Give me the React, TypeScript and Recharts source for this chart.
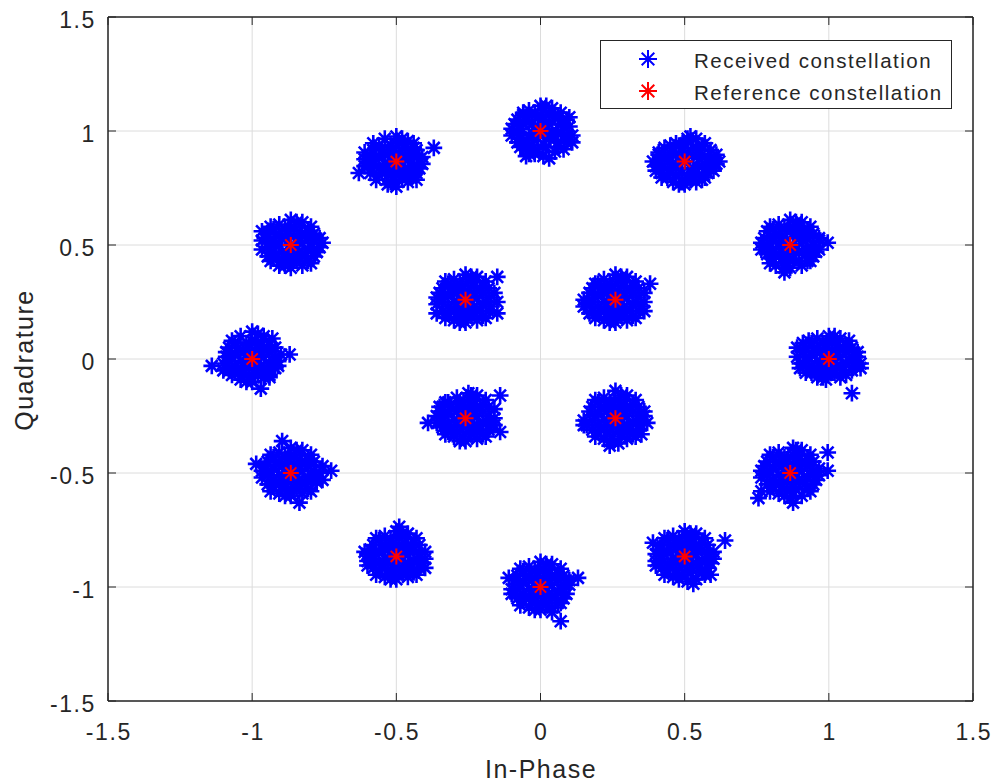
import { ScatterChart, Scatter, XAxis, YAxis, CartesianGrid, Legend, ReferenceArea } from 'recharts';

const FONT = "'Liberation Sans', Arial, Helvetica, sans-serif";
const INK = '#262626';

const axisTicks = [-1.5, -1, -0.5, 0, 0.5, 1, 1.5];

// reference constellation (16-APSK: 12 outer + 4 inner)
const refI = [1, 0.866, 0.5, 0, -0.5, -0.866, -1, -0.866, -0.5, 0, 0.5, 0.866, 0.26, -0.26, -0.26, 0.26];
const refQ = [0, 0.5, 0.866, 1, 0.866, 0.5, 0, -0.5, -0.866, -1, -0.866, -0.5, 0.26, 0.26, -0.26, -0.26];

// received samples, read per cluster as offsets from the reference point (x0.01)
const rx_1_0 = [[0,0],[4,1],[-4,-1],[1,4],[-1,-4],[2,-2],[-2,2],[5,5],[-5,5],[5,-5],[-5,-5],[8,1],[-8,-1],[1,8],[-1,-7],[6,-2],[-6,2],[3,6],[-3,-6],[6,3],[-6,-3],[2,-6],[-2,7],[8,5],[-8,5],[8,-5],[-8,-6],[4,9],[-4,9],[4,-8],[-4,-8],[11,-2],[-11,1],[0,10],[-1,-9],[7,8],[-7,8],[6,-7],[-10,-4],[-11,5],[8,-15],[10,3],
  [3,3],[-3,3],[3,-3],[-3,-3],[7,-1],[-7,1],[1,-6],[-1,6],[6,6],[-6,-6],[-6,7],[9,-3],[-9,3],[2,10],[-2,-8],[10,1],[-10,-2],[-9,7],[11,-4]];
const rx_087_05 = [[1,0],[4,2],[-4,-1],[1,5],[-1,-4],[2,-2],[-3,2],[5,5],[-5,5],[5,-4],[-5,-5],[8,0],[-8,-1],[1,8],[-1,-8],[6,-2],[-6,2],[3,7],[-3,-6],[6,3],[-6,-3],[3,-7],[-2,7],[8,5],[-8,6],[8,-5],[-8,-4],[4,10],[-4,9],[4,-9],[-5,-9],[10,-2],[-10,1],[0,11],[0,-10],[7,8],[-7,8],[7,-7],[-7,-8],[13,1],[10,3],
  [3,3],[-3,3],[3,-3],[-3,-3],[7,-1],[-7,1],[1,-6],[-1,6],[6,6],[-6,-6],[6,-7],[-6,7],[9,-3],[-9,3],[2,10],[-2,-10],[10,2],[-10,-2],[-2,-12]];
const rx_05_087 = [[0,0],[5,1],[-4,-1],[1,4],[-1,-5],[2,-3],[-2,2],[5,5],[-5,4],[5,-6],[-5,-5],[9,1],[-9,-1],[1,9],[-1,-9],[6,-2],[-7,2],[3,6],[-3,-6],[6,3],[-6,-3],[2,-8],[-2,7],[9,5],[-9,4],[8,-5],[-8,-5],[4,10],[-3,8],[4,-9],[-4,-9],[11,-1],[-11,0],[1,10],[0,-10],[7,8],[-7,6],[7,-7],[-8,-7],[11,3],[10,-4],[-10,-4],
  [3,3],[-3,3],[3,-3],[-3,-3],[7,-1],[-7,1],[1,-7],[-1,6],[6,7],[-6,-7],[6,-8],[-5,7],[9,-3],[-9,3],[2,11],[-2,-10],[10,2],[-10,-2],[12,0]];
const rx_0_1 = [[0,1],[4,0],[-4,-2],[1,5],[-1,-3],[3,-2],[-2,2],[5,6],[-5,5],[6,-5],[-4,-6],[8,2],[-8,-1],[1,9],[-1,-8],[6,-1],[-6,3],[3,7],[-3,-6],[7,3],[-7,-3],[2,-7],[-2,8],[9,5],[-8,5],[9,-5],[-8,-5],[4,10],[-4,9],[5,-9],[-4,-10],[11,-2],[-10,1],[0,11],[1,-11],[7,8],[-6,8],[8,-8],[-7,-7],[10,6],[-5,-11],[11,-5],
  [3,3],[-3,3],[3,-3],[-3,-3],[7,-1],[-7,1],[1,-6],[-1,6],[6,6],[-6,-6],[6,-7],[-6,7],[9,-2],[-9,3],[2,11],[-2,-10],[10,2],[-10,-2],[3,-12]];
const rx_m05_087 = [[0,0],[4,1],[-4,-1],[1,4],[-1,-4],[2,-2],[-2,2],[5,5],[-5,5],[5,-5],[-5,-5],[8,1],[-8,-1],[1,8],[-1,-8],[6,-2],[-6,2],[3,6],[-3,-6],[6,3],[-6,-3],[2,-7],[-2,7],[7,5],[-8,5],[7,-5],[-9,-5],[4,9],[-4,10],[4,-9],[-3,-10],[9,-1],[-11,1],[0,11],[0,-11],[6,8],[-8,8],[7,-8],[-7,-8],[13,6],[-13,-5],[-11,-2],
  [3,3],[-3,3],[3,-3],[-3,-3],[7,-2],[-7,1],[1,-6],[-1,6],[6,6],[-6,-6],[5,-7],[-6,7],[8,-3],[-9,3],[2,10],[-2,-9],[9,2],[-10,-2],[-11,4]];
const rx_m087_05 = [[0,0],[4,1],[-4,0],[1,4],[-1,-4],[2,-2],[-2,3],[5,5],[-5,5],[5,-5],[-5,-4],[8,2],[-8,-1],[1,8],[-1,-8],[6,-2],[-6,2],[3,6],[-3,-6],[6,3],[-6,-3],[2,-7],[-2,7],[8,5],[-8,5],[8,-5],[-8,-5],[4,10],[-4,9],[4,-9],[-4,-9],[10,-1],[-10,2],[0,11],[0,-10],[7,8],[-7,8],[7,-8],[-7,-7],[11,1],[9,-3],
  [3,3],[-3,3],[3,-3],[-3,-3],[7,-1],[-7,1],[1,-6],[-1,6],[6,6],[-6,-6],[6,-7],[-6,7],[9,-3],[-9,3],[2,10],[-2,-9],[10,3],[-10,-2],[-10,6]];
const rx_m1_0 = [[0,0],[4,1],[-4,-1],[1,4],[-1,-4],[2,-2],[-2,2],[5,5],[-5,5],[5,-5],[-5,-5],[8,1],[-8,-1],[1,8],[-1,-8],[6,-2],[-6,2],[3,6],[-3,-6],[6,3],[-6,-3],[2,-7],[-2,7],[8,5],[-8,5],[8,-4],[-8,-5],[4,10],[-4,10],[4,-8],[-4,-9],[9,-1],[-9,1],[0,12],[0,-10],[7,9],[-7,8],[6,-8],[-7,-7],[-14,-3],[13,2],[3,-13],
  [3,3],[-3,3],[3,-3],[-3,-3],[7,-1],[-7,1],[1,-6],[-1,6],[6,6],[-6,-6],[6,-7],[-6,7],[9,-3],[-9,3],[2,11],[-2,-10],[10,2],[-10,-2],[-10,-5]];
const rx_m087_m05 = [[0,0],[4,1],[-4,-1],[1,4],[-1,-4],[2,-2],[-2,2],[5,5],[-5,5],[5,-5],[-5,-5],[8,1],[-8,-1],[1,8],[-1,-8],[6,-2],[-6,2],[3,6],[-3,-6],[6,3],[-6,-3],[2,-7],[-2,7],[8,5],[-8,5],[9,-4],[-8,-5],[4,10],[-4,9],[4,-9],[-4,-9],[10,0],[-10,1],[0,11],[0,-10],[7,8],[-7,8],[7,-8],[-7,-8],[-12,4],[14,1],[-3,14],[3,-13],
  [3,3],[-3,3],[3,-3],[-3,-3],[7,-1],[-7,1],[1,-6],[-1,6],[6,6],[-6,-6],[6,-7],[-6,7],[9,-3],[-9,3],[2,10],[-2,-10],[11,3],[-10,-2],[11,-3]];
const rx_m05_m087 = [[0,0],[4,1],[-4,-1],[1,4],[-1,-4],[2,-2],[-2,2],[5,5],[-5,5],[5,-5],[-5,-5],[8,1],[-8,-1],[1,8],[-1,-8],[6,-2],[-6,2],[3,6],[-3,-6],[6,3],[-6,-3],[2,-7],[-2,7],[8,5],[-8,5],[8,-5],[-8,-5],[4,10],[-4,9],[4,-9],[-4,-9],[10,-1],[-10,1],[0,11],[0,-10],[7,8],[-7,8],[7,-8],[-7,-8],[1,13],[-10,-4],[10,-5],
  [3,3],[-3,3],[3,-3],[-3,-3],[7,-1],[-7,1],[1,-6],[-1,6],[6,6],[-6,-6],[6,-7],[-6,7],[9,-3],[-9,3],[2,10],[-2,-10],[10,2],[-10,-2],[-11,2]];
const rx_0_m1 = [[0,0],[4,1],[-4,-1],[1,4],[-1,-4],[2,-2],[-2,2],[5,5],[-5,5],[5,-5],[-5,-5],[8,1],[-8,-1],[1,8],[-1,-8],[6,-2],[-6,2],[3,6],[-3,-6],[6,3],[-6,-3],[2,-7],[-2,7],[8,5],[-8,5],[8,-5],[-8,-5],[4,10],[-4,9],[4,-9],[-4,-9],[10,1],[-10,-1],[0,11],[0,-10],[7,8],[-7,8],[7,-7],[-7,-8],[13,4],[7,-15],[-11,4],
  [3,3],[-3,3],[3,-3],[-3,-3],[7,-1],[-7,1],[1,-6],[-1,6],[6,6],[-6,-6],[6,-7],[-6,7],[9,-3],[-9,3],[2,10],[-2,-10],[10,3],[-10,-3],[4,-11]];
const rx_05_m087 = [[0,0],[4,1],[-4,-1],[1,4],[-1,-4],[2,-2],[-2,2],[5,5],[-5,5],[5,-5],[-5,-5],[8,1],[-8,-1],[1,8],[-1,-8],[6,-2],[-6,2],[3,6],[-3,-6],[6,3],[-6,-3],[2,-7],[-2,7],[8,5],[-8,5],[8,-5],[-8,-5],[4,10],[-4,9],[4,-10],[-4,-9],[10,-1],[-10,1],[0,11],[1,-11],[7,8],[-7,8],[7,-8],[-7,-8],[14,7],[-11,6],[-10,-4],[3,-12],
  [3,3],[-3,3],[3,-3],[-3,-3],[7,-1],[-7,1],[1,-6],[-1,6],[6,6],[-6,-6],[6,-7],[-6,7],[9,-3],[-9,3],[2,10],[-2,-10],[10,2],[-10,-2],[9,-8]];
const rx_087_m05 = [[0,0],[4,1],[-4,-1],[1,4],[-1,-4],[2,-2],[-2,2],[5,5],[-5,5],[5,-5],[-5,-5],[8,1],[-8,-1],[1,8],[-1,-8],[6,-2],[-6,2],[3,6],[-3,-6],[6,3],[-6,-3],[2,-7],[-2,7],[8,5],[-8,5],[8,-5],[-8,-5],[4,10],[-4,9],[4,-10],[-4,-9],[10,-1],[-10,1],[1,11],[0,-11],[7,8],[-7,8],[7,-8],[-7,-8],[-11,-11],[13,9],[13,1],[1,-13],
  [3,3],[-3,3],[3,-3],[-3,-3],[7,-1],[-7,1],[1,-6],[-1,6],[6,6],[-6,-6],[6,-7],[-6,7],[9,-3],[-9,3],[2,10],[-2,-10],[10,2],[-10,-2],[-10,-8]];
const rx_026_026 = [[0,0],[4,1],[-4,-1],[1,4],[-1,-4],[2,-2],[-2,2],[5,5],[-5,5],[5,-5],[-5,-5],[8,1],[-8,-1],[1,8],[-1,-8],[6,-2],[-6,2],[3,6],[-3,-6],[6,3],[-6,-3],[2,-7],[-2,7],[8,5],[-8,5],[8,-5],[-8,-5],[4,10],[-4,9],[4,-9],[-4,-9],[10,-1],[-11,0],[0,11],[0,-10],[7,8],[-7,7],[7,-8],[-7,-8],[12,7],[-11,-3],[10,-5],
  [3,3],[-3,3],[3,-3],[-3,-3],[7,-1],[-7,1],[1,-6],[-1,6],[6,6],[-6,-6],[6,-7],[-6,7],[9,-3],[-9,3],[2,10],[-2,-10],[10,3],[-10,-2],[-9,-6]];
const rx_m026_026 = [[0,0],[4,1],[-4,-1],[1,4],[-1,-4],[2,-2],[-2,2],[5,5],[-5,5],[5,-5],[-5,-5],[8,1],[-8,-1],[1,8],[-1,-8],[6,-2],[-6,2],[3,6],[-3,-6],[6,3],[-6,-3],[2,-7],[-2,7],[8,5],[-8,5],[8,-5],[-8,-5],[4,10],[-4,9],[4,-9],[-4,-9],[11,-1],[-10,1],[0,11],[0,-10],[7,8],[-7,8],[7,-8],[-7,-8],[11,10],[11,-6],
  [3,3],[-3,3],[3,-3],[-3,-3],[7,-1],[-7,1],[1,-6],[-1,6],[6,6],[-6,-6],[6,-7],[-6,7],[9,-3],[-9,3],[2,10],[-2,-10],[10,3],[-10,-2],[-10,-6]];
const rx_m026_m026 = [[0,0],[4,1],[-4,-1],[1,4],[-1,-4],[2,-2],[-2,2],[5,5],[-5,5],[5,-5],[-5,-5],[8,1],[-8,-1],[1,8],[-1,-8],[6,-2],[-6,2],[3,6],[-3,-6],[6,3],[-6,-3],[2,-7],[-2,7],[8,5],[-8,5],[8,-5],[-8,-4],[4,10],[-3,9],[4,-9],[-4,-8],[10,0],[-10,1],[1,11],[0,-10],[7,8],[-7,7],[7,-8],[-7,-7],[-13,-2],[12,10],[12,-6],[10,4],
  [3,3],[-3,3],[3,-3],[-3,-3],[7,-1],[-7,1],[1,-6],[-1,6],[6,6],[-6,-6],[6,-7],[-6,7],[9,-3],[-9,3],[2,10],[-2,-10],[10,-3],[-10,-2],[-9,5]];
const rx_026_m026 = [[0,0],[4,1],[-4,-1],[1,4],[-1,-4],[2,-2],[-2,2],[5,5],[-5,5],[5,-5],[-5,-5],[8,1],[-8,-1],[1,8],[-1,-8],[6,-2],[-6,2],[3,6],[-3,-6],[6,3],[-6,-3],[2,-7],[-2,7],[8,5],[-8,5],[8,-5],[-8,-5],[4,10],[-4,9],[4,-9],[-4,-9],[10,1],[-11,-1],[0,12],[1,-11],[7,8],[-7,8],[7,-8],[-7,-8],[-11,-3],[11,-2],[-2,-12],
  [3,3],[-3,3],[3,-3],[-3,-3],[7,-1],[-7,1],[1,-6],[-1,6],[6,6],[-6,-6],[6,-7],[-6,7],[9,-3],[-9,3],[2,10],[-2,-10],[10,3],[-10,-3],[9,-7]];

const rxClusters = [
  rx_1_0, rx_087_05, rx_05_087, rx_0_1, rx_m05_087, rx_m087_05, rx_m1_0, rx_m087_m05,
  rx_m05_m087, rx_0_m1, rx_05_m087, rx_087_m05, rx_026_026, rx_m026_026, rx_m026_m026, rx_026_m026,
];

const referenceData = refI.map((x, i) => ({ x, y: refQ[i] }));
const receivedData = rxClusters.flatMap((pts, i) =>
  pts.map(([dx, dy]) => ({ x: refI[i] + dx / 100, y: refQ[i] + dy / 100 })),
);

const legendItems = [
  { name: 'Received constellation', color: '#0000ff' },
  { name: 'Reference constellation', color: '#ff0000' },
];

function starPath(cx: number, cy: number, r: number) {
  const d = r * 0.7;
  return `M${cx - r},${cy}H${cx + r}M${cx},${cy - r}V${cy + r}M${cx - d},${cy - d}L${cx + d},${cy + d}M${cx - d},${cy + d}L${cx + d},${cy - d}`;
}

function Star({ cx, cy, color, r = 8.4, w = 2.6 }: any) {
  if (cx == null || cy == null) return null;
  return <path d={starPath(cx, cy, r)} stroke={color} strokeWidth={w} fill="none" />;
}

const tickText = { fontFamily: FONT, fontSize: 23, fill: INK, letterSpacing: 1.6 };

function BottomTick({ x, y, payload }: any) {
  return (
    <g>
      <line x1={x} x2={x} y1={y} y2={y - 8} stroke={INK} />
      <text x={x + 0.8} y={y + 39} textAnchor="middle" style={tickText}>{String(payload.value)}</text>
    </g>
  );
}

function LeftTick({ x, y, payload }: any) {
  return (
    <g>
      <line x1={x} x2={x + 8} y1={y} y2={y} stroke={INK} />
      <text x={x - 12} y={y + 11} textAnchor="end" style={tickText}>{String(payload.value)}</text>
    </g>
  );
}

function TopTick({ x, y }: any) {
  return <line x1={x} x2={x} y1={y} y2={y + 8} stroke={INK} />;
}

function RightTick({ x, y }: any) {
  return <line x1={x} x2={x - 8} y1={y} y2={y} stroke={INK} />;
}

const labelText = { fontFamily: FONT, fontSize: 25, fill: INK, letterSpacing: 1.5 };

function XLabel() {
  return <text x={541} y={778} textAnchor="middle" style={labelText}>In-Phase</text>;
}

function YLabel() {
  return (
    <text x={33} y={360} textAnchor="middle" transform="rotate(-90 33 360)" style={labelText}>Quadrature</text>
  );
}

function LegendBox() {
  return (
    <svg width={353} height={70} style={{ display: 'block' }}>
      <rect x={0.5} y={0.5} width={351} height={68} fill="#fff" stroke={INK} />
      {legendItems.map((it, i) => (
        <g key={it.name}>
          <Star cx={48} cy={19 + i * 32} color={it.color} r={9} w={2} />
          <text x={94} y={27.5 + i * 32} style={{ fontFamily: FONT, fontSize: 20.5, fill: INK, letterSpacing: 1.5 }}>{it.name}</text>
        </g>
      ))}
    </svg>
  );
}

export default function App() {
  return (
    <div style={{ position: 'absolute', left: 0, top: 0, width: 998, height: 784, background: '#fff' }}>
      <ScatterChart width={998} height={784} margin={{ top: 16, right: 24, bottom: 0, left: 0 }}>
        <CartesianGrid stroke="#dcdcdc" />
        <XAxis
          type="number" dataKey="x" domain={[-1.5, 1.5]} ticks={axisTicks} interval={0} allowDataOverflow
          height={83} tickSize={0} tickMargin={0} tickLine={false} axisLine={{ stroke: INK }}
          tick={BottomTick} label={<XLabel />}
        />
        <YAxis
          type="number" dataKey="y" domain={[-1.5, 1.5]} ticks={axisTicks} interval={0} allowDataOverflow
          width={108} tickSize={0} tickMargin={0} tickLine={false} axisLine={{ stroke: INK }}
          tick={LeftTick} label={<YLabel />}
        />
        <XAxis
          xAxisId="top" orientation="top" type="number" dataKey="x" domain={[-1.5, 1.5]} ticks={axisTicks} interval={0}
          allowDataOverflow height={1} tickSize={0} tickMargin={0} tickLine={false} axisLine={{ stroke: INK }} tick={TopTick}
        />
        <YAxis
          yAxisId="right" orientation="right" type="number" dataKey="y" domain={[-1.5, 1.5]} ticks={axisTicks} interval={0}
          allowDataOverflow width={1} tickSize={0} tickMargin={0} tickLine={false} axisLine={{ stroke: INK }} tick={RightTick}
        />
        <ReferenceArea x1={-1.5} x2={1.5} y1={-1.5} y2={1.5} fill="none" stroke={INK} strokeWidth={1} ifOverflow="visible" />
        <Legend
          layout="vertical" align="center" verticalAlign="middle"
          wrapperStyle={{ left: 600, top: 40, width: 353, height: 70 }}
          content={() => <LegendBox />}
        />
        <Scatter
          name="Received constellation" data={receivedData} isAnimationActive={false}
          shape={(p: any) => <Star cx={p.cx} cy={p.cy} color="#0000ff" />}
        />
        <Scatter
          name="Reference constellation" data={referenceData} isAnimationActive={false}
          shape={(p: any) => <Star cx={p.cx} cy={p.cy} color="#ff0000" r={8} w={2} />}
        />
      </ScatterChart>
    </div>
  );
}
